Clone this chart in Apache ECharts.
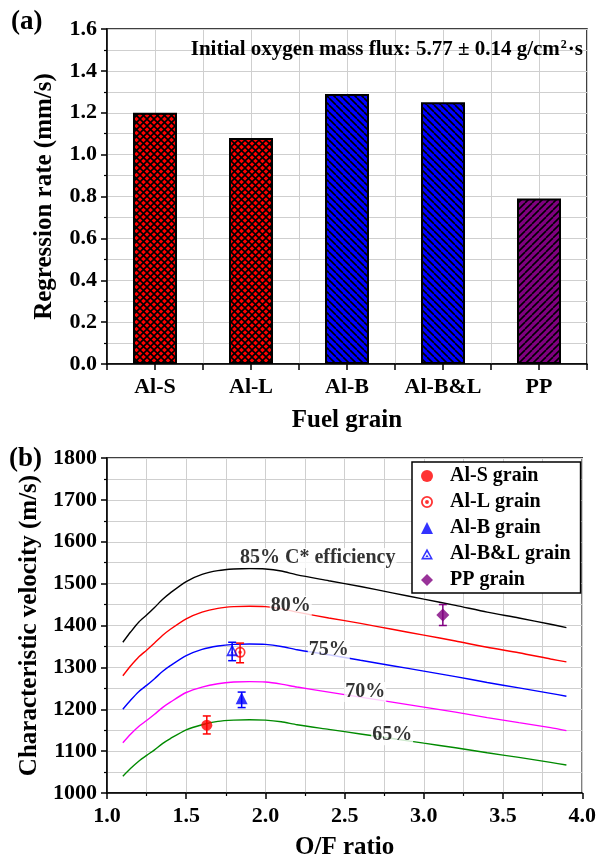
<!DOCTYPE html>
<html>
<head>
<meta charset="utf-8">
<script src="https://cdn.jsdelivr.net/npm/echarts@6/dist/echarts.min.js"></script>
<style>
html,body{margin:0;padding:0;background:#fff;}
#main{width:599px;height:861px;}
</style>
</head>
<body>
<div id="main"></div>
<script>
// ---------- Data: panel (a) ----------
const categories = ['Al-S', 'Al-L', 'Al-B', 'Al-B&L', 'PP'];
const regressionRates = [1.20, 1.08, 1.29, 1.25, 0.79];
const rateTicks = [0, 0.2, 0.4, 0.6, 0.8, 1.0, 1.2, 1.4, 1.6];

// ---------- Data: panel (b) ----------
const ofRatio = [1.1, 1.15, 1.2, 1.25, 1.3, 1.35, 1.4, 1.5, 1.6, 1.7, 1.8, 1.9, 2.0, 2.1, 2.2, 2.4, 2.6, 2.8, 3.0, 3.2, 3.4, 3.6, 3.8, 3.9];
const cstar85 = [1360, 1385, 1408, 1425, 1443, 1462, 1478, 1505, 1522, 1531, 1535, 1536, 1535, 1530, 1521, 1507, 1493, 1478, 1463, 1448, 1432, 1418, 1403, 1395];
const cstar80 = [1280, 1304, 1325, 1341, 1358, 1376, 1391, 1416, 1432, 1441, 1445, 1446, 1445, 1440, 1432, 1418, 1405, 1391, 1377, 1363, 1348, 1335, 1320, 1313];
const cstar75 = [1200, 1222, 1242, 1257, 1273, 1290, 1304, 1328, 1343, 1351, 1355, 1356, 1355, 1350, 1342, 1330, 1317, 1304, 1291, 1278, 1264, 1251, 1238, 1231];
const cstar70 = [1120, 1141, 1159, 1173, 1188, 1204, 1217, 1240, 1253, 1261, 1265, 1266, 1265, 1260, 1253, 1241, 1229, 1217, 1205, 1193, 1180, 1168, 1156, 1149];
const cstar65 = [1040, 1059, 1076, 1090, 1103, 1118, 1130, 1151, 1163, 1171, 1174, 1175, 1174, 1170, 1163, 1152, 1141, 1130, 1119, 1108, 1096, 1085, 1073, 1067];
const cstarTicks = [1000, 1100, 1200, 1300, 1400, 1500, 1600, 1700, 1800];

const curveLabels = ['85% C* efficiency', '80%', '75%', '70%', '65%'];
const curveLabelOF = [2.33, 2.16, 2.40, 2.63, 2.80];
const curveLabelCstar = [1561, 1447, 1341, 1241, 1138];

const pointNames = ['Al-S grain', 'Al-L grain', 'Al-B grain', 'Al-B&L grain', 'PP grain'];
const pointOF = [1.63, 1.84, 1.85, 1.79, 3.12];
const pointCstar = [1162, 1336, 1226, 1341, 1425];
const pointErrLow = [1141, 1311, 1204, 1316, 1400];
const pointErrHigh = [1184, 1358, 1241, 1360, 1450];

// ---------- Styles ----------
const FONT = 'Liberation Serif';
const curveColors = ['#000000', '#ff0000', '#0000ff', '#ff00ff', '#008a00'];
const pointColors = ['#ff0000', '#ff0000', '#0000ff', '#0000ff', '#800080'];
const ringPath = 'path://M0,-10 A10,10 0 1,1 0,10 A10,10 0 1,1 0,-10 Z M0,-7 A7,7 0 1,0 0,7 A7,7 0 1,0 0,-7 Z M0,-3.2 A3.2,3.2 0 1,1 0,3.2 A3.2,3.2 0 1,1 0,-3.2 Z';
const openTriPath = 'path://M0,-10 L10,8 L-10,8 Z M0,-4.5 L-5.8,5.2 L5.8,5.2 Z M0,0 L2.6,4 L-2.6,4 Z';
const pointSymbols = ['circle', ringPath, 'triangle', openTriPath, 'diamond'];
const pointSizes = [11, 11, 12, 12, 13];

function makePattern(bg, dirs) {
  const s = 7;
  const c = document.createElement('canvas');
  c.width = s; c.height = s;
  const ctx = c.getContext('2d');
  ctx.fillStyle = bg;
  ctx.fillRect(0, 0, s, s);
  ctx.strokeStyle = '#000';
  ctx.lineWidth = 1.6;
  dirs.forEach(d => {
    for (let o = -s; o <= s; o += s) {
      ctx.beginPath();
      if (d === '\\') { ctx.moveTo(o, 0); ctx.lineTo(o + s, s); }
      else { ctx.moveTo(o, s); ctx.lineTo(o + s, 0); }
      ctx.stroke();
    }
  });
  return { image: c, repeat: 'repeat' };
}
const barFills = [
  makePattern('#ff0000', ['\\', '/']),
  makePattern('#ff0000', ['\\', '/']),
  makePattern('#0000ff', ['\\']),
  makePattern('#0000ff', ['\\']),
  makePattern('#800080', ['/'])
];

const axisFont = { fontFamily: FONT, fontWeight: 'bold', fontSize: 22, color: '#000' };
const nameFont = { fontFamily: FONT, fontWeight: 'bold', fontSize: 25, color: '#000' };
function gridLine() { return { show: true, lineStyle: { color: '#cfcfcf', type: 'solid', width: 1 } }; }
const axisLineStyle = () => ({ show: true, onZero: false, lineStyle: { color: '#000', width: 1.5 } });
const tickStyle = () => ({ show: true, length: 6, lineStyle: { color: '#000', width: 1.5 } });
const minorTickStyle = () => ({ show: true, splitNumber: 2, length: 3, lineStyle: { color: '#000', width: 1.2 } });

const chart = echarts.init(document.getElementById('main'), null, { renderer: 'canvas' });

const curveSets = [cstar85, cstar80, cstar75, cstar70, cstar65];
const lineSeries = curveSets.map((arr, k) => ({
  type: 'line', xAxisIndex: 1, yAxisIndex: 1,
  data: ofRatio.map((x, i) => [x, arr[i]]),
  showSymbol: false, smooth: 0.25, silent: true,
  lineStyle: { color: curveColors[k], width: 1.4 },
  z: 2
}));

const labelSeries = {
  type: 'scatter', xAxisIndex: 1, yAxisIndex: 1, symbolSize: 0, silent: true, z: 4,
  data: curveLabels.map((t, i) => ({ value: [curveLabelOF[i], curveLabelCstar[i]], name: t })),
  label: {
    show: true, position: 'inside', formatter: p => p.name,
    fontFamily: FONT, fontWeight: 'bold', fontSize: 20, color: '#000',
    backgroundColor: '#fff', padding: [0, 1]
  }
};

const errSeries = pointNames.map((n, k) => ({
  type: 'custom', xAxisIndex: 1, yAxisIndex: 1, silent: true, z: 5,
  data: [[pointOF[k], pointErrLow[k], pointErrHigh[k]]],
  encode: { x: 0, y: [1, 2] },
  renderItem: function (params, api) {
    const x = api.value(0);
    const p1 = api.coord([x, api.value(1)]);
    const p2 = api.coord([x, api.value(2)]);
    const w = 4;
    const st = { stroke: pointColors[k], lineWidth: 1.5 };
    return {
      type: 'group', children: [
        { type: 'line', shape: { x1: p1[0], y1: p1[1], x2: p2[0], y2: p2[1] }, style: st },
        { type: 'line', shape: { x1: p1[0] - w, y1: p1[1], x2: p1[0] + w, y2: p1[1] }, style: st },
        { type: 'line', shape: { x1: p2[0] - w, y1: p2[1], x2: p2[0] + w, y2: p2[1] }, style: st }
      ]
    };
  }
}));

const pointSeries = pointNames.map((n, k) => ({
  name: n, type: 'scatter', xAxisIndex: 1, yAxisIndex: 1, z: 6,
  symbol: pointSymbols[k], symbolSize: pointSizes[k],
  itemStyle: { color: pointColors[k] },
  data: [[pointOF[k], pointCstar[k]]]
}));

const option = {
  backgroundColor: '#fff',
  animation: false,
  grid: [
    { left: 107, right: 12, top: 29, height: 335, show: true, borderColor: '#000', borderWidth: 1.5 },
    { left: 107, right: 12, top: 458, height: 335, show: true, borderColor: '#000', borderWidth: 1.5 }
  ],
  xAxis: [
    {
      gridIndex: 0, type: 'value', min: -0.5, max: 4.5, interval: 0.5,
      axisLine: axisLineStyle(), axisTick: tickStyle(), splitLine: gridLine(),
      axisLabel: Object.assign({ margin: 12, formatter: v => { const i = Math.round(v); return (Math.abs(v - i) < 1e-6 && categories[i]) ? categories[i] : ''; } }, axisFont),
      name: 'Fuel grain', nameLocation: 'middle', nameGap: 44, nameTextStyle: nameFont
    },
    {
      gridIndex: 1, type: 'value', min: 1.0, max: 4.0, interval: 0.5,
      axisLine: axisLineStyle(), axisTick: tickStyle(), minorTick: minorTickStyle(),
      splitLine: gridLine(), minorSplitLine: gridLine(),
      axisLabel: Object.assign({ margin: 12, formatter: v => v.toFixed(1) }, axisFont),
      name: 'O/F ratio', nameLocation: 'middle', nameGap: 42, nameTextStyle: nameFont
    }
  ],
  yAxis: [
    {
      gridIndex: 0, type: 'value', min: rateTicks[0], max: rateTicks[rateTicks.length - 1], interval: 0.2,
      axisLine: axisLineStyle(), axisTick: tickStyle(), minorTick: minorTickStyle(),
      splitLine: gridLine(), minorSplitLine: gridLine(),
      axisLabel: Object.assign({ margin: 10, formatter: v => v.toFixed(1) }, axisFont),
      name: 'Regression rate (mm/s)', nameLocation: 'middle', nameGap: 50, nameTextStyle: nameFont
    },
    {
      gridIndex: 1, type: 'value', min: cstarTicks[0], max: cstarTicks[cstarTicks.length - 1], interval: 100,
      axisLine: axisLineStyle(), axisTick: tickStyle(), minorTick: minorTickStyle(),
      splitLine: gridLine(), minorSplitLine: gridLine(),
      axisLabel: Object.assign({ margin: 10, formatter: v => String(v) }, axisFont),
      name: 'Characteristic velocity (m/s)', nameLocation: 'middle', nameGap: 64, nameTextStyle: nameFont
    }
  ],
  legend: {
    data: pointNames,
    orient: 'vertical', left: 412, top: 462,
    padding: [4, 10, 3, 9],
    itemGap: 6, itemWidth: 12, itemHeight: 12,
    backgroundColor: '#fff', borderColor: '#000', borderWidth: 1.5,
    selectedMode: false,
    textStyle: { fontFamily: FONT, fontWeight: 'bold', fontSize: 20, color: '#000', lineHeight: 20, padding: [0, 0, 0, 12] }
  },
  graphic: [
    { type: 'text', left: 11, top: 9, style: { text: '(a)', fontFamily: FONT, fontWeight: 'bold', fontSize: 27, fill: '#000' } },
    { type: 'text', left: 9, top: 446, style: { text: '(b)', fontFamily: FONT, fontWeight: 'bold', fontSize: 27, fill: '#000' } },
    {
      type: 'text', z: 10,
      style: {
        x: 583, y: 50, align: 'right', verticalAlign: 'middle',
        text: 'Initial oxygen mass flux: 5.77 ± 0.14 g/cm{sup|2}·s',
        fontFamily: FONT, fontWeight: 'bold', fontSize: 21, fill: '#000',
        rich: { sup: { fontFamily: FONT, fontWeight: 'bold', fontSize: 12, verticalAlign: 'top', padding: [0, 1, 10, 1], fill: '#000' } }
      }
    }
  ],
  series: [
    {
      type: 'bar', xAxisIndex: 0, yAxisIndex: 0, barWidth: 44, silent: true, z: 3,
      data: categories.map((c, i) => ({ value: [i, regressionRates[i]], itemStyle: { color: barFills[i] } })),
      itemStyle: { borderColor: '#000', borderWidth: 2 }
    }
  ].concat(lineSeries, [labelSeries], errSeries, pointSeries)
};

chart.setOption(option);
</script>
</body>
</html>
